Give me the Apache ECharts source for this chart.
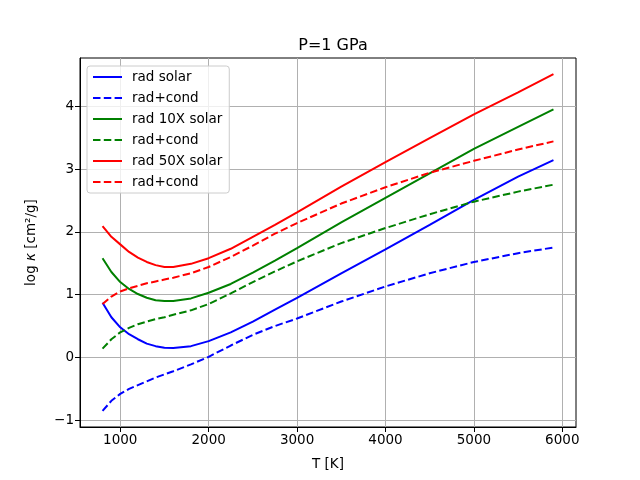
<!DOCTYPE html>
<html>
<head>
<meta charset="utf-8">
<script src="https://cdn.jsdelivr.net/npm/echarts@6/dist/echarts.min.js"></script>
<style>
  html, body { margin: 0; padding: 0; background: #fff; }
  #chart { width: 640px; height: 480px; }
</style>
</head>
<body>
<div id="chart"></div>
<script>
// temperatures [K]
var temps = [800, 900, 1000, 1100, 1200, 1300, 1400, 1500, 1600, 1800, 2000, 2250, 2500, 2750, 3000, 3500, 4000, 4500, 5000, 5500, 5900];

// log kappa
var radSolar     = [0.87, 0.64, 0.48, 0.37, 0.29, 0.22, 0.18, 0.155, 0.15, 0.18, 0.26, 0.40, 0.57, 0.76, 0.95, 1.34, 1.72, 2.11, 2.51, 2.88, 3.14];
var condSolar    = [-0.85, -0.69, -0.58, -0.50, -0.44, -0.38, -0.32, -0.27, -0.22, -0.11, 0.01, 0.19, 0.36, 0.50, 0.62, 0.89, 1.13, 1.34, 1.52, 1.66, 1.75];
var rad10Solar   = [1.58, 1.36, 1.20, 1.09, 1.01, 0.95, 0.91, 0.90, 0.90, 0.94, 1.03, 1.17, 1.35, 1.54, 1.74, 2.15, 2.54, 2.93, 3.32, 3.67, 3.95];
var cond10Solar  = [0.14, 0.29, 0.40, 0.47, 0.53, 0.57, 0.61, 0.64, 0.68, 0.75, 0.85, 1.02, 1.20, 1.37, 1.53, 1.82, 2.06, 2.28, 2.48, 2.64, 2.75];
var rad50Solar   = [2.09, 1.92, 1.80, 1.68, 1.59, 1.52, 1.47, 1.44, 1.44, 1.49, 1.58, 1.73, 1.92, 2.11, 2.31, 2.72, 3.11, 3.49, 3.87, 4.22, 4.51];
var cond50Solar  = [0.85, 0.97, 1.05, 1.10, 1.14, 1.18, 1.21, 1.24, 1.27, 1.34, 1.44, 1.60, 1.78, 1.97, 2.14, 2.45, 2.71, 2.94, 3.13, 3.31, 3.44];

var xTicks = [1000, 2000, 3000, 4000, 5000, 6000];
var yTicks = [-1, 0, 1, 2, 3, 4];

function pairs(vals) {
    var out = [];
    for (var i = 0; i < temps.length; i++) {
        out.push([temps[i], vals[i]]);
    }
    return out;
}

function mkSeries(name, vals, color, dashed) {
    return {
        name: name,
        type: 'line',
        data: pairs(vals),
        symbol: 'none',
        smooth: false,
        lineStyle: { color: color, width: 2, type: dashed ? [7.5, 3.3] : 'solid' },
        itemStyle: { color: color }
    };
}

var font = 'DejaVu Sans';
var myChart = echarts.init(document.getElementById('chart'));
var option = {
    animation: false,
    backgroundColor: '#fff',
    title: {
        text: 'P=1 GPa',
        left: 328,
        top: 33,
        textAlign: 'center',
        textStyle: { fontFamily: font, fontSize: 16, fontWeight: 'normal', color: '#000' }
    },
    legend: {
        orient: 'vertical',
        left: 87,
        top: 66,
        padding: [4, 7, 4, 5],
        itemWidth: 29,
        itemHeight: 14,
        itemGap: 7,
        itemStyle: { opacity: 0 },
        backgroundColor: 'rgba(255,255,255,0.8)',
        borderColor: '#cccccc',
        borderWidth: 1,
        borderRadius: 3,
        textStyle: { fontFamily: font, fontSize: 13.5, color: '#000', padding: [0, 0, 0, 5] },
        data: ['rad solar', 'rad+cond', 'rad 10X solar', 'rad+cond ', 'rad 50X solar', 'rad+cond  ']
    },
    grid: {
        left: 80, right: 64, top: 58, bottom: 53,
        show: true, borderColor: '#000', borderWidth: 1,
        containLabel: false
    },
    xAxis: {
        type: 'value',
        min: 545,
        max: 6155,
        name: 'T [K]',
        nameLocation: 'middle',
        nameGap: 30,
        nameTextStyle: { fontFamily: font, fontSize: 13.5, color: '#000' },
        axisLine: { show: true, onZero: false, lineStyle: { color: '#000', width: 1 } },
        axisTick: { show: true, inside: false, length: 5, customValues: xTicks, lineStyle: { color: '#000' } },
        axisLabel: {
            fontFamily: font, fontSize: 13.5, color: '#000', margin: 6, customValues: xTicks,
            formatter: function(v) { return String(v); }
        },
        splitLine: { show: true, lineStyle: { color: '#b0b0b0', width: 1 } }
    },
    yAxis: {
        type: 'value',
        min: -1.107,
        max: 4.767,
        name: 'log {i|κ} [cm²/g]',
        nameLocation: 'middle',
        nameGap: 42,
        nameRotate: 90,
        nameTextStyle: {
            fontFamily: font, fontSize: 13.5, color: '#000',
            rich: { i: { fontFamily: font, fontSize: 13.5, fontStyle: 'italic', color: '#000' } }
        },
        axisLine: { show: true, onZero: false, lineStyle: { color: '#000', width: 1 } },
        axisTick: { show: true, inside: false, length: 5, customValues: yTicks, lineStyle: { color: '#000' } },
        axisLabel: {
            fontFamily: font, fontSize: 13.5, color: '#000', margin: 6, customValues: yTicks,
            formatter: function(v) { return String(v).replace('-', '\u2212'); }
        },
        splitLine: { show: true, lineStyle: { color: '#b0b0b0', width: 1 } }
    },
    series: [
        mkSeries('rad solar', radSolar, '#0000ff', false),
        mkSeries('rad+cond', condSolar, '#0000ff', true),
        mkSeries('rad 10X solar', rad10Solar, '#008000', false),
        mkSeries('rad+cond ', cond10Solar, '#008000', true),
        mkSeries('rad 50X solar', rad50Solar, '#ff0000', false),
        mkSeries('rad+cond  ', cond50Solar, '#ff0000', true)
    ]
};
myChart.setOption(option);
</script>
</body>
</html>
